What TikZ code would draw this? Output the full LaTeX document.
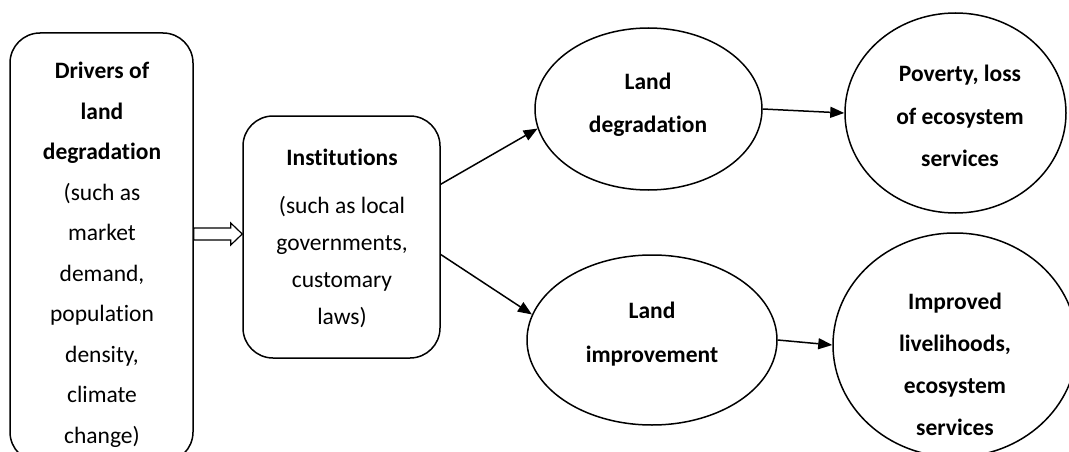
\documentclass[tikz,border=0pt]{standalone}
\usepackage{fontspec}
\setmainfont{Carlito}[Ligatures=NoCommon]
\usetikzlibrary{shapes.geometric,arrows.meta,calc}
\tikzset{
  outline/.style={draw=black, line width=1.5pt},
  roundbox/.style={outline, rounded corners=30pt, inner sep=0pt},
  oval/.style={outline, ellipse, inner sep=0pt},
  txt/.style={align=center, inner sep=0pt, font=\fontsize{23.5}{40.5}\selectfont},
  link/.style={line width=1.5pt, -{Triangle[length=14pt,width=11pt]}},
  blockarrow/.style={draw=black, line width=1.2pt, fill=white},
}
\begin{document}
\begin{tikzpicture}[x=1pt,y=-1pt]
\useasboundingbox (0,0) rectangle (1069,452);
% boxes
\node[roundbox, minimum width=183pt, minimum height=429pt] (drv) at (101.5,247.5) {};
\node[txt] (drvtext) at (102,255) {\textbf{Drivers of}\\\textbf{land}\\\textbf{degradation}\\(such as\\market\\demand,\\population\\density,\\climate\\change)};
\node[roundbox, minimum width=197pt, minimum height=242pt] (inst) at (341.5,237) {};
\node[txt, font=\fontsize{23.5}{37}\selectfont] (insttext) at (342,238) {\textbf{Institutions}\\[11pt](such as local\\governments,\\customary\\laws)};
% ellipses
\node[oval, minimum width=227pt, minimum height=162pt] (deg) at (648.5,109) {};
\node[txt, font=\bfseries\fontsize{23.5}{43}\selectfont] (degtext) at (648,105) {Land\\degradation};
\node[oval, minimum width=250pt, minimum height=170pt] (imp) at (652,340) {};
\node[txt, font=\bfseries\fontsize{23.5}{44}\selectfont] (imptext) at (652,334) {Land\\improvement};
\node[oval, minimum width=221pt, minimum height=200pt] (pov) at (955.5,113) {};
\node[txt, font=\bfseries\fontsize{23.5}{42.5}\selectfont] (povtext) at (960,116) {Poverty, loss\\of ecosystem\\services};
\node[oval, minimum width=244pt, minimum height=224pt] (liv) at (955,345) {};
\node[txt, font=\bfseries\fontsize{23.5}{42}\selectfont] (livtext) at (955,364) {Improved\\livelihoods,\\ecosystem\\services};
% hollow block arrow from drivers to institutions
\coordinate (ba) at ($(drv.east)+(0,-13.5)$);
\draw[blockarrow] ($(ba)+(0,-6)$) -- ($(ba)+(37,-6)$) -- ($(ba)+(37,-11)$)
  -- ($(inst.west)+(0,-3)$) -- ($(ba)+(37,11)$) -- ($(ba)+(37,6)$) -- ($(ba)+(0,6)$) -- cycle;
% connectors
\draw[link] (inst.28.7) -- (deg.190.2);
\draw[link] (inst.-10.7) -- (imp.168.6);
\draw[link] (deg.east) -- (pov.west);
\draw[link] (imp.east) -- (liv.west);
\end{tikzpicture}
\end{document}
